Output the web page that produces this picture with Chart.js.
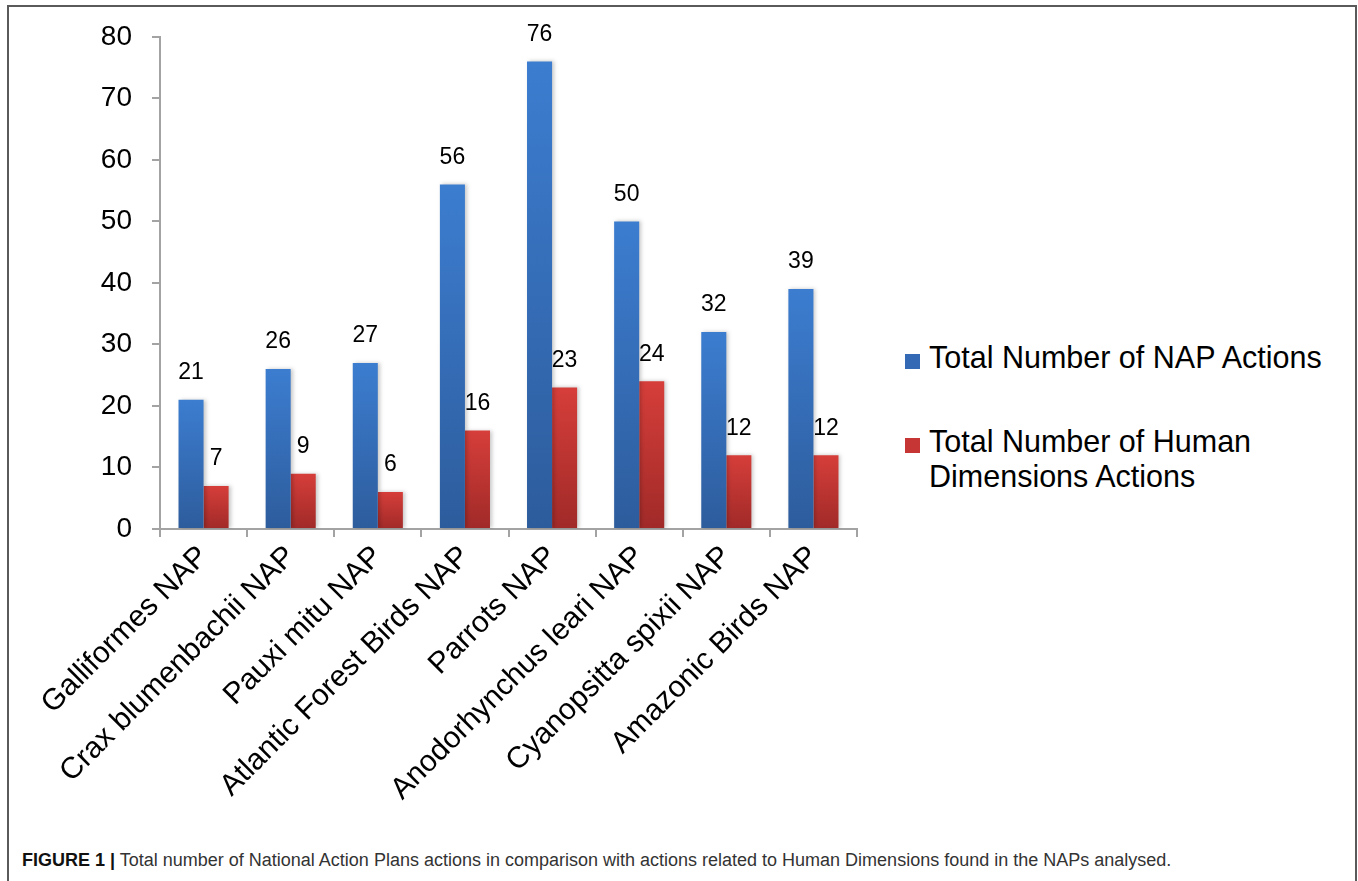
<!DOCTYPE html>
<html>
<head>
<meta charset="utf-8">
<script src="https://cdn.jsdelivr.net/npm/chart.js@4"></script>
<style>
    body {
        margin: 0;
        background: #fff;
        width: 1358px;
        height: 881px;
        overflow: hidden;
        position: relative;
        font-family: "Liberation Sans", Arial, sans-serif;
    }
    #frame {
        position: absolute;
        left: 7px;
        top: 5px;
        width: 1346px;
        height: 900px;
        border: 2px solid #5a5a5a;
    }
    #chartBox {
        position: absolute;
        left: 0;
        top: 0;
    }
    .legend-item {
        position: absolute;
        left: 905px;
        font-size: 30.5px;
        line-height: 35px;
        color: #000;
    }
    .legend-swatch {
        position: absolute;
        left: 0;
        width: 15px;
        height: 15px;
    }
    .legend-text {
        position: absolute;
        left: 24px;
        white-space: nowrap;
    }
    #caption {
        position: absolute;
        left: 22px;
        top: 850px;
        font-size: 18px;
        color: #333;
        white-space: nowrap;
    }
    #caption b {
        color: #111;
    }
</style>
</head>
<body>
<div id="frame"></div>
<div id="chartBox"><canvas id="myChart" width="880" height="820"></canvas></div>
<div id="legend"></div>
<div id="caption"><b>FIGURE 1 |</b> Total number of National Action Plans actions in comparison with actions related to Human Dimensions found in the NAPs analysed.</div>

<script>
const categories = [
    'Galliformes NAP',
    'Crax blumenbachii NAP',
    'Pauxi mitu NAP',
    'Atlantic Forest Birds NAP',
    'Parrots NAP',
    'Anodorhynchus leari NAP',
    'Cyanopsitta spixii NAP',
    'Amazonic Birds NAP'
];
const napActions = [21, 26, 27, 56, 76, 50, 32, 39];
const humanDimensionsActions = [7, 9, 6, 16, 23, 24, 12, 12];
const yTicks = [0, 10, 20, 30, 40, 50, 60, 70, 80];

const seriesNames = [
    ['Total Number of NAP Actions'],
    ['Total Number of Human', 'Dimensions Actions']
];
const seriesColors = [
    { top: '#3c7dd0', bottom: '#2d5c9c', swatch: '#3469b5' },
    { top: '#d63e3a', bottom: '#a02a28', swatch: '#c63634' }
];

const axisColor = '#a3a3a3';

// vertical gradient running from the top of each bar down to zero
function barGradient(colors) {
    return function(context) {
        const chart = context.chart;
        if (!chart.chartArea || context.type !== 'data') {
            return colors.bottom;
        }
        const yScale = chart.scales.y;
        const yTop = yScale.getPixelForValue(context.raw);
        const yBottom = yScale.getPixelForValue(0);
        if (!isFinite(yTop) || yTop === yBottom) {
            return colors.bottom;
        }
        const gradient = chart.ctx.createLinearGradient(0, yTop, 0, yBottom);
        gradient.addColorStop(0, colors.top);
        gradient.addColorStop(1, colors.bottom);
        return gradient;
    };
}

// soft shadow behind the bars
const barShadow = {
    id: 'barShadow',
    beforeDatasetsDraw(chart) {
        const ctx = chart.ctx;
        ctx.save();
        ctx.shadowColor = 'rgba(0, 0, 0, 0.22)';
        ctx.shadowBlur = 4;
        ctx.shadowOffsetX = 2;
        ctx.shadowOffsetY = 0;
    },
    afterDatasetsDraw(chart) {
        chart.ctx.restore();
    }
};

// value printed above each bar
const valueLabels = {
    id: 'valueLabels',
    afterDatasetsDraw(chart) {
        const ctx = chart.ctx;
        ctx.save();
        ctx.font = '23px "Liberation Sans", Arial, sans-serif';
        ctx.fillStyle = '#000';
        ctx.textAlign = 'center';
        ctx.textBaseline = 'middle';
        chart.data.datasets.forEach((dataset, i) => {
            const meta = chart.getDatasetMeta(i);
            meta.data.forEach((bar, index) => {
                ctx.fillText(String(dataset.data[index]), bar.x, bar.y - 27);
            });
        });
        ctx.restore();
    }
};

function createChart() {
    const ctx = document.getElementById('myChart').getContext('2d');
    return new Chart(ctx, {
        type: 'bar',
        data: {
            labels: categories,
            datasets: [
                {
                    label: seriesNames[0].join(' '),
                    data: napActions,
                    backgroundColor: barGradient(seriesColors[0]),
                    categoryPercentage: 0.575,
                    barPercentage: 1.0
                },
                {
                    label: seriesNames[1].join(' '),
                    data: humanDimensionsActions,
                    backgroundColor: barGradient(seriesColors[1]),
                    categoryPercentage: 0.575,
                    barPercentage: 1.0
                }
            ]
        },
        options: {
            responsive: false,
            animation: false,
            devicePixelRatio: 1,
            layout: {
                padding: { top: 36, right: 23, bottom: 0, left: 0 }
            },
            plugins: {
                legend: { display: false },
                tooltip: { enabled: false }
            },
            scales: {
                x: {
                    afterFit: scale => { scale.height = 291; },
                    grid: {
                        offset: true,
                        drawOnChartArea: false,
                        drawTicks: true,
                        tickLength: 8,
                        color: axisColor,
                        lineWidth: 2
                    },
                    border: { color: axisColor, width: 2 },
                    ticks: {
                        autoSkip: false,
                        maxRotation: 45,
                        minRotation: 45,
                        padding: 2,
                        color: '#000',
                        font: { family: '"Liberation Sans", Arial, sans-serif', size: 30 }
                    }
                },
                y: {
                    min: 0,
                    max: 80,
                    afterFit: scale => { scale.width = 160; },
                    afterBuildTicks: scale => {
                        scale.ticks = yTicks.map(v => ({ value: v }));
                    },
                    grid: {
                        drawOnChartArea: false,
                        drawTicks: true,
                        tickLength: 8,
                        color: axisColor,
                        lineWidth: 2
                    },
                    border: { color: axisColor, width: 2 },
                    ticks: {
                        padding: 20,
                        color: '#000',
                        font: { family: '"Liberation Sans", Arial, sans-serif', size: 28 }
                    }
                }
            }
        },
        plugins: [barShadow, valueLabels]
    });
}

function buildLegend() {
    const legend = document.getElementById('legend');
    const itemTops = [340, 424];
    seriesNames.forEach((lines, i) => {
        const item = document.createElement('div');
        item.classList.add('legend-item');
        item.style.top = itemTops[i] + 'px';

        const swatch = document.createElement('div');
        swatch.classList.add('legend-swatch');
        swatch.style.top = '14px';
        swatch.style.background = seriesColors[i].swatch;
        item.appendChild(swatch);

        const text = document.createElement('div');
        text.classList.add('legend-text');
        text.innerHTML = lines.join('<br>');
        item.appendChild(text);

        legend.appendChild(item);
    });
}

let chart = createChart();
buildLegend();
</script>
</body>
</html>
